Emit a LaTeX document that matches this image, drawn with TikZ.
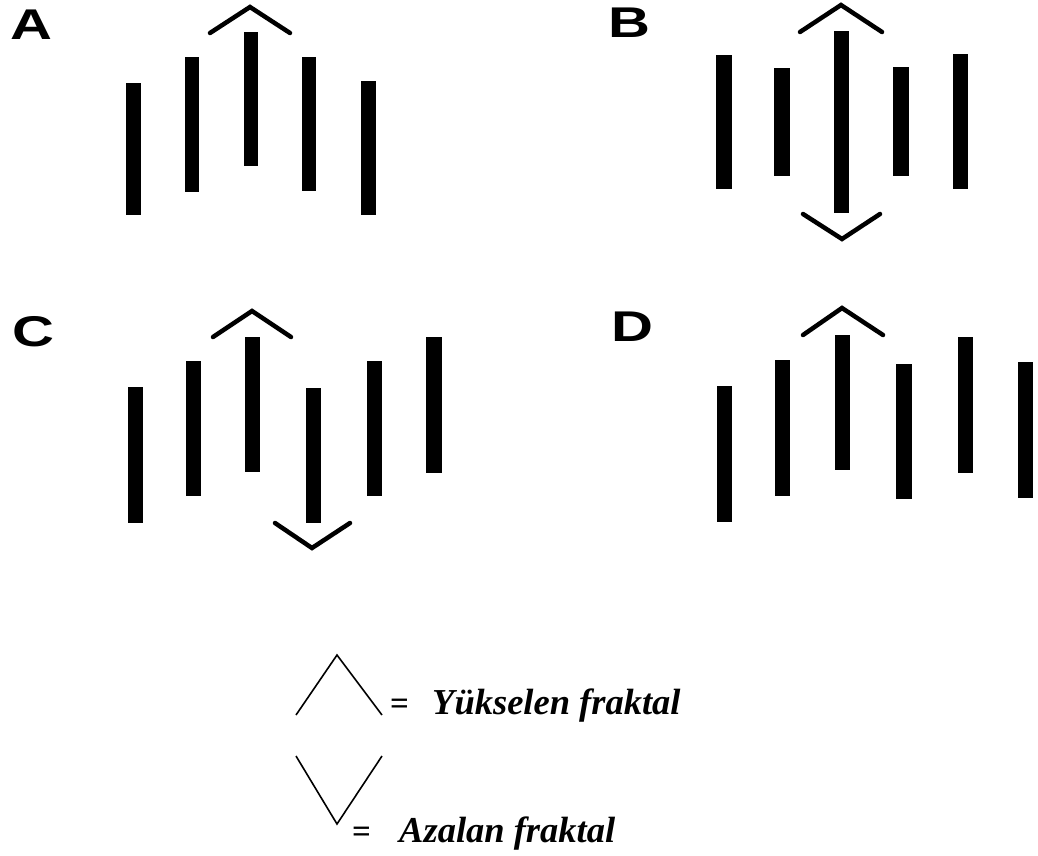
\documentclass[tikz,border=0pt]{standalone}
\usepackage{fontspec}
\setmainfont{Liberation Serif}
\newfontfamily\lblfont{Liberation Sans}
\begin{document}
\begin{tikzpicture}[x=1pt,y=-1pt,
  bar/.style={fill=black},
  caret/.style={draw=black,line width=4.5pt,line cap=round,line join=miter},
  legcaret/.style={draw=black,line width=1.6pt,line join=miter},
  panellabel/.style={inner sep=0pt,anchor=north west,font=\lblfont\bfseries\fontsize{43}{43}\selectfont,xscale=1.35},
  legtext/.style={inner sep=0pt,anchor=base west,font=\bfseries\itshape\fontsize{36.5}{36.5}\selectfont},
  legeq/.style={inner sep=0pt,anchor=base west,font=\bfseries\fontsize{33}{33}\selectfont}]
\useasboundingbox (0,0) rectangle (1038,855);
% ---------- Panel A ----------
\node[panellabel] (lA) at (10,10) {A};
\fill[bar] (126,83) rectangle (141,215);
\fill[bar] (185,57) rectangle (199,192);
\fill[bar] (244,32) rectangle (258,166);
\fill[bar] (302,57) rectangle (316,191);
\fill[bar] (361,81) rectangle (376,215);
\draw[caret] (210,33) -- (250,7) -- (290,33);
% ---------- Panel B ----------
\node[panellabel] (lB) at (608,8) {B};
\fill[bar] (716,55) rectangle (732,189);
\fill[bar] (774,68) rectangle (790,176);
\fill[bar] (834,31) rectangle (849,213);
\fill[bar] (893,67) rectangle (909,176);
\fill[bar] (953,54) rectangle (968,189);
\draw[caret] (800,32) -- (841,5) -- (882,32);
\draw[caret] (803,214) -- (842,239) -- (880,214);
% ---------- Panel C ----------
\node[panellabel] (lC) at (12,316) {C};
\fill[bar] (128,387) rectangle (143,523);
\fill[bar] (186,361) rectangle (201,496);
\fill[bar] (245,337) rectangle (260,472);
\fill[bar] (306,388) rectangle (321,523);
\fill[bar] (367,361) rectangle (382,496);
\fill[bar] (426,337) rectangle (442,473);
\draw[caret] (213,337) -- (252,311) -- (291,337);
\draw[caret] (275,523) -- (312,548) -- (350,523);
% ---------- Panel D ----------
\node[panellabel] (lD) at (611,312) {D};
\fill[bar] (717,386) rectangle (732,522);
\fill[bar] (775,360) rectangle (790,496);
\fill[bar] (835,335) rectangle (850,470);
\fill[bar] (896,364) rectangle (912,499);
\fill[bar] (958,337) rectangle (973,473);
\fill[bar] (1018,362) rectangle (1033,498);
\draw[caret] (803,335) -- (842,308) -- (883,335);
% ---------- Legend ----------
\draw[legcaret] (296,715) -- (337,655) -- (382,715);
\node[legeq] (eq1) at (390,714) {=};
\node[legtext] (t1) at (432,714) {Yükselen fraktal};
\draw[legcaret] (296,756) -- (337,824) -- (382,756);
\node[legeq] (eq2) at (352,842) {=};
\node[legtext] (t2) at (399,842) {Azalan fraktal};
\end{tikzpicture}
\end{document}
